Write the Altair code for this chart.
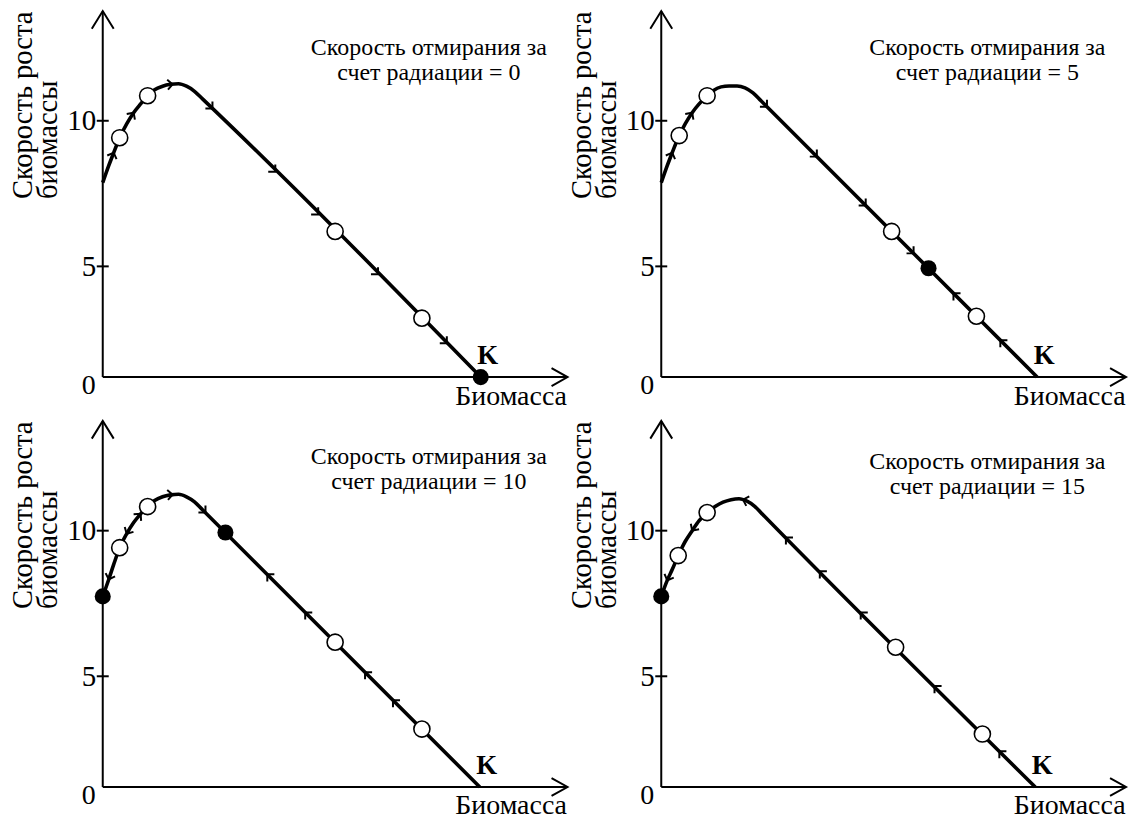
import altair as alt
import numpy as np
import pandas as pd

FONT = "Liberation Serif"

# ---------------- data ----------------
RAD = [0, 5, 10, 15]          # death rate due to radiation, one per panel
TICKS = [5, 10]
XMAX = 18.64                  # end of the biomass axis
YMAX = 13.42                  # end of the growth-rate axis
EXP = 1.211                   # the drawing's y axis is slightly stretched upwards

CURVE_X = [
    [0, 0.24, 0.44, 0.68, 0.96, 1.24, 1.52, 1.80, 2.08, 2.40, 2.72, 3.04, 3.36, 3.68, 4.00, 15.16],
    [0, 0.24, 0.44, 0.68, 0.96, 1.24, 1.52, 1.80, 2.08, 2.40, 2.72, 3.04, 3.36, 3.68, 4.00, 15.08],
    [0, 0.24, 0.44, 0.68, 0.96, 1.24, 1.52, 1.80, 2.08, 2.40, 2.72, 3.04, 3.36, 3.68, 4.00, 15.12],
    [0, 0.24, 0.44, 0.68, 0.96, 1.24, 1.52, 1.84, 2.16, 2.48, 2.80, 3.12, 3.44, 3.76, 4.08, 15.00],
]
CURVE_Y = [
    [7.96, 8.53, 8.96, 9.45, 9.90, 10.26, 10.54, 10.80, 10.99, 11.10, 11.16, 11.18, 11.10, 10.94, 10.70, 0],
    [7.96, 8.53, 8.96, 9.45, 9.90, 10.26, 10.54, 10.77, 10.96, 11.08, 11.11, 11.11, 11.05, 10.89, 10.64, 0],
    [7.83, 8.40, 8.90, 9.45, 9.90, 10.26, 10.54, 10.77, 10.96, 11.08, 11.14, 11.16, 11.08, 10.92, 10.67, 0],
    [7.83, 8.37, 8.73, 9.19, 9.65, 10.00, 10.32, 10.58, 10.77, 10.91, 10.99, 11.02, 10.94, 10.77, 10.51, 0],
]
OPEN_X = [[0.68, 1.80, 9.32, 12.80], [0.72, 1.84, 9.24, 12.64],
          [0.68, 1.80, 9.32, 12.80], [0.68, 1.84, 9.40, 12.88]]
OPEN_Y = [[9.45, 10.80, 6.27, 2.97], [9.52, 10.80, 6.27, 3.05],
          [9.45, 10.77, 6.24, 2.93], [9.19, 10.58, 6.06, 2.72]]
FILLED_X = [[15.16], [10.72], [0, 4.92], [0]]
FILLED_Y = [[0], [4.93], [7.83, 9.94], [7.83]]
ARROW_X = [
    [0.44, 1.24, 2.80, 4.40, 6.92, 8.64, 11.04, 13.80],
    [0.44, 1.24, 4.24, 6.24, 8.20, 10.12, 11.72, 13.60],
    [0.24, 0.96, 1.52, 2.80, 4.12, 6.60, 8.12, 10.52, 11.64],
    [0.24, 1.24, 3.28, 5.00, 6.36, 8.00, 10.96, 13.56],
]
ARROW_Y = [
    [8.96, 10.26, 11.16, 10.39, 8.33, 6.87, 4.70, 1.88],
    [8.96, 10.26, 10.45, 8.83, 7.18, 5.48, 3.97, 2.02],
    [8.40, 9.90, 10.54, 11.15, 10.58, 8.57, 7.28, 5.15, 4.09],
    [8.37, 10.00, 10.99, 9.78, 8.67, 7.28, 4.63, 1.97],
]
ARROW_DIR = [
    [1, 1, 1, 1, 1, 1, 1, 1],
    [1, 1, 1, 1, 1, 1, -1, -1],
    [-1, -1, 1, 1, 1, -1, -1, -1, -1],
    [-1, -1, -1, -1, -1, -1, -1, -1],
]

# ---------------- styling / layout ----------------
W, H = 466, 367
NOTE_Y = [44, 44, 43, 48]
UP = "M-0.62,1L0,0L0.62,1"
RIGHT = "M-1,-0.56L0,0L-1,0.56"
CHEV = "M-1,-1L0,0L-1,1"
TICKMARK = "M-1,0L1,0"


def to_px(xv, yv):
    return xv * W / XMAX, H * (yv / YMAX) ** EXP


def tangent_angle(cx, cy, x0, d):
    cx = np.asarray(cx, dtype=float)
    i = int(np.searchsorted(cx, x0, side="right") - 1)
    i = min(max(i, 0), len(cx) - 2)
    j0, j1 = i, i + 1
    if np.isclose(cx[i], x0) and i > 0:
        j0 = i - 1
    xa, ha = to_px(cx[j0], cy[j0])
    xb, hb = to_px(cx[j1], cy[j1])
    ang = np.degrees(np.arctan2(-(hb - ha), xb - xa))
    if d < 0:
        ang += 180
    return float(ang % 360)


xs = alt.Scale(domain=[0, XMAX], nice=False, zero=True)
ys = alt.Scale(type="pow", exponent=EXP, domain=[0, YMAX], nice=False)

x_axis = alt.Axis(values=[], ticks=False, domain=False, labels=False, grid=False,
                  title="Биомасса", titleX=465, titleY=27, titleAlign="right",
                  titleBaseline="alphabetic", titleFont=FONT, titleFontSize=28,
                  titleFontWeight="normal", titleColor="black")
y_axis = alt.Axis(values=TICKS, ticks=False, domain=False, grid=False,
                  labelPadding=7, labelFont=FONT, labelFontSize=29, labelColor="black",
                  title=["Скорость роста", "биомассы"], titleX=-71, titleY=188,
                  titleAngle=270, titleAlign="left", titleBaseline="alphabetic",
                  titleFont=FONT, titleFontSize=28.6, titleFontWeight="normal",
                  titleColor="black", titleLineHeight=25)


def X(field="x"):
    return alt.X(f"{field}:Q", scale=xs, axis=x_axis)


def Y(field="y"):
    return alt.Y(f"{field}:Q", scale=ys, axis=y_axis)


def panel(k):
    cx, cy = CURVE_X[k], CURVE_Y[k]
    curve = pd.DataFrame({"x": cx, "y": cy})
    axes = pd.DataFrame({"x": [0, 0], "y": [0, 0], "x2": [0, XMAX], "y2": [YMAX, 0]})
    ticks = pd.DataFrame({"x": [0] * len(TICKS), "y": TICKS})
    opens = pd.DataFrame({"x": OPEN_X[k], "y": OPEN_Y[k]})
    filled = pd.DataFrame({"x": FILLED_X[k], "y": FILLED_Y[k]})
    arrows = pd.DataFrame({
        "x": ARROW_X[k], "y": ARROW_Y[k],
        "angle": [tangent_angle(cx, cy, a, d) for a, d in zip(ARROW_X[k], ARROW_DIR[k])],
    })
    k_lab = pd.DataFrame({"x": [cx[-1]], "y": [0], "t": ["K"]})
    zero = pd.DataFrame({"x": [0], "y": [0], "t": ["0"]})
    note = pd.DataFrame({"r": [RAD[k]]})

    l_curve = alt.Chart(curve).mark_line(color="black", strokeWidth=3.6,
                                         interpolate="monotone").encode(x=X(), y=Y())
    l_axes = alt.Chart(axes).mark_rule(color="black", strokeWidth=2).encode(
        x=X(), y=Y(), x2="x2:Q", y2="y2:Q")
    l_up = alt.Chart(axes.iloc[[0]]).mark_point(
        shape=UP, size=1253, filled=False, color="black", strokeWidth=2, opacity=1
    ).encode(x=X(), y=Y("y2"))
    l_right = alt.Chart(axes.iloc[[1]]).mark_point(
        shape=RIGHT, size=1024, filled=False, color="black", strokeWidth=2, opacity=1
    ).encode(x=X("x2"), y=Y())
    l_ticks = alt.Chart(ticks).mark_point(
        shape=TICKMARK, size=144, filled=False, color="black", strokeWidth=2, opacity=1
    ).encode(x=X(), y=Y())
    l_arrows = alt.Chart(arrows).mark_point(
        shape=CHEV, size=100, filled=False, color="black", strokeWidth=2, opacity=1
    ).encode(x=X(), y=Y(), angle=alt.Angle("angle:Q", scale=None))
    l_open = alt.Chart(opens).mark_point(
        shape="circle", size=260, filled=True, fill="white", stroke="black",
        strokeWidth=1.6, opacity=1
    ).encode(x=X(), y=Y())
    l_filled = alt.Chart(filled).mark_point(
        shape="circle", size=260, filled=True, color="black", opacity=1
    ).encode(x=X(), y=Y())
    l_k = alt.Chart(k_lab).mark_text(
        font=FONT, fontSize=27, fontWeight="bold", color="black", dx=7, dy=-13,
        align="center", baseline="alphabetic"
    ).encode(x=X(), y=Y(), text="t:N")
    l_zero = alt.Chart(zero).mark_text(
        font=FONT, fontSize=28, color="black", dx=-14, dy=9, align="center",
        baseline="middle"
    ).encode(x=X(), y=Y(), text="t:N")
    l_note = alt.Chart(note).mark_text(
        font=FONT, fontSize=24, color="black", align="center", baseline="alphabetic",
        lineHeight=25
    ).encode(
        x=alt.value(327), y=alt.value(NOTE_Y[k]),
        text=alt.value(["Скорость отмирания за", f"счет радиации = {RAD[k]}"]),
    )
    return alt.layer(l_axes, l_up, l_right, l_ticks, l_curve, l_arrows, l_open,
                     l_filled, l_k, l_zero, l_note).properties(width=W, height=H)


chart = alt.concat(
    *[panel(k) for k in range(4)], columns=2,
    spacing={"row": 44, "column": 94}, bounds="flush",
).configure_view(stroke=None).properties(
    padding={"left": 0, "top": -2, "right": 0, "bottom": 0}, background="white"
)

chart.save("out.html", embed_options={"renderer": "svg", "actions": False})
